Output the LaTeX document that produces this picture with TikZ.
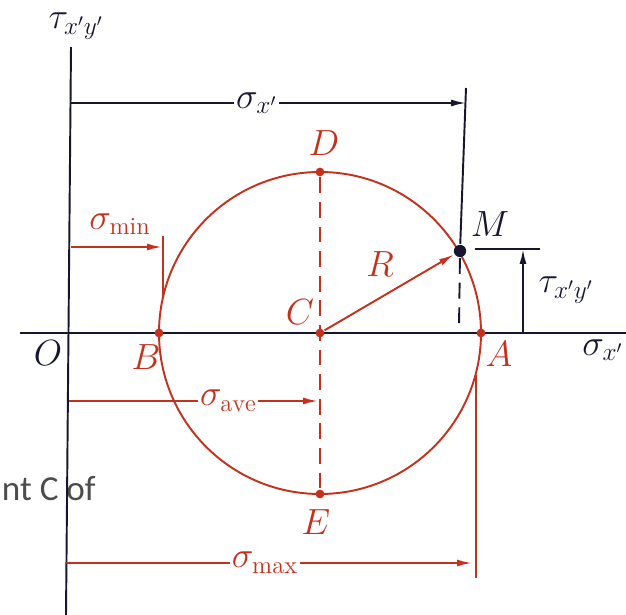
\documentclass[tikz,border=0pt]{standalone}
\usepackage{fontspec}
\newfontfamily\slidefont{Carlito}
\usetikzlibrary{arrows.meta}
\definecolor{mohrred}{RGB}{196,50,30}
\definecolor{axisblue}{RGB}{22,22,48}
\begin{document}
\begin{tikzpicture}[x=0.02cm, y=-0.02cm, line width=1.1pt, font=\fontsize{20}{24}\selectfont,
  dim/.style={-{Latex[length=3mm,width=1.4mm]}},
  rdot/.style={circle, fill=mohrred, inner sep=0pt, minimum size=5pt},
  cut/.style={fill=white, inner sep=1pt}]
\useasboundingbox (0,0) rectangle (626,615);
% slide text behind the figure
\node[anchor=base west, font=\slidefont\fontsize{20}{24}\selectfont, text=black!70, inner sep=0pt] (slide) at (1,500) {nt C of};
% axes
\coordinate (ytop) at (71,47);
\coordinate (ybot) at (66,615);
\coordinate (xl) at (20,333);
\coordinate (xr) at (626,333);
\draw[axisblue] (ytop) -- (ybot);
\draw[axisblue] (xl) -- (xr);
\node[axisblue] (tau) at (76,26) {$\tau_{x'y'}$};
\node[axisblue] (o) at (48,353) {$O$};
\node[axisblue, anchor=east, inner sep=1pt] (sigx) at (626,350) {$\sigma_{x'}$};
% circle and its points
\coordinate (c0) at (320,333);
\draw[mohrred] (c0) circle (161);
\node[rdot] (c) at (c0) {};
\node[rdot] (b) at (159,333) {};
\node[rdot] (a) at (481,333) {};
\node[rdot] (d) at (320,172) {};
\node[rdot] (e) at (320,494) {};
\node[circle, fill=axisblue, inner sep=0pt, minimum size=7pt] (m) at (460,251) {};
\draw[mohrred, dashed, dash pattern=on 9pt off 5pt] (d) -- (e);
\node[mohrred] (dl) at (324,143) {$D$};
\node[mohrred] (el) at (316,522) {$E$};
\node[mohrred] (cl) at (300,312) {$C$};
\node[mohrred] (bl) at (146,357) {$B$};
\node[mohrred] (al) at (499,354) {$A$};
\node[axisblue] (ml) at (490,224) {$M$};
% radius
\draw[mohrred, dim] (c) -- (m);
\node[mohrred] (rl) at (380,264) {$R$};
% sigma x'
\coordinate (sxl) at (71,103);
\coordinate (sxr) at (466,103);
\draw[axisblue] (466,88) -- (m);
\draw[axisblue, dashed, dash pattern=on 9pt off 5pt] (m) -- (459,330);
\draw[axisblue, dim] (sxl) -- node[cut, pos=0.47] (sxlab) {$\sigma_{x'}$} (sxr);
% tau x'y'
\coordinate (tt) at (523,249);
\coordinate (tb) at (523,333);
\draw[axisblue] (475,249) -- (540,249);
\draw[axisblue, dim] (tb) -- (tt);
\node[axisblue] (taul) at (566,290) {$\tau_{x'y'}$};
% sigma min, ave, max
\coordinate (mn1) at (71,247);
\coordinate (mn2) at (162,247);
\draw[mohrred, dim] (mn1) -- (mn2);
\draw[mohrred] (163,236) -- (163,296);
\node[mohrred] (mnl) at (120,224) {$\sigma_{\mathrm{min}}$};
\coordinate (av1) at (69,401);
\coordinate (av2) at (318,401);
\draw[mohrred, dim] (av1) -- node[cut, pos=0.64] (avl) {$\sigma_{\mathrm{ave}}$} (av2);
\coordinate (mx1) at (66,563);
\coordinate (mx2) at (472,563);
\draw[mohrred, dim] (mx1) -- node[cut, pos=0.49] (mxl) {$\sigma_{\mathrm{max}}$} (mx2);
\draw[mohrred] (476,375) -- (476,578);
\end{tikzpicture}
\end{document}
